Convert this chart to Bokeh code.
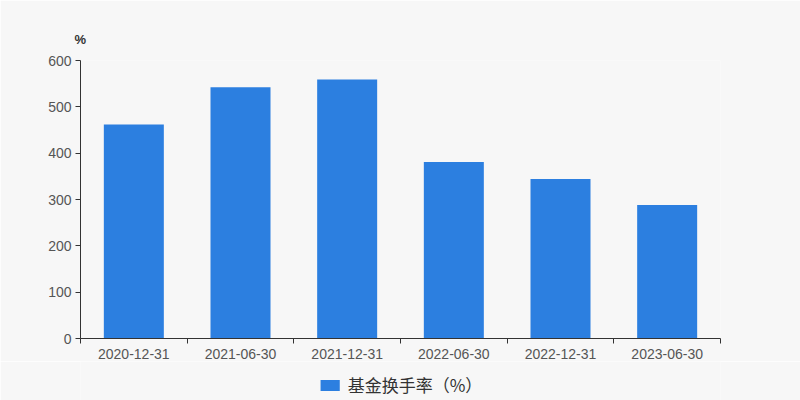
from bokeh.plotting import figure
from bokeh.layouts import column
from bokeh.models import ColumnDataSource, FixedTicker, Legend, LegendItem, Range1d
from bokeh.embed import file_html
from bokeh.resources import INLINE

dates = ["2020-12-31", "2021-06-30", "2021-12-31", "2022-06-30", "2022-12-31", "2023-06-30"]
turnover = [462, 542, 559, 381, 344, 288]
y_ticks = [0, 100, 200, 300, 400, 500, 600]
series_name = "基金换手率（%）"
unit_label = "%"

BG = "#f7f7f7"
BAR = "#2c7fe0"
AX = "#333333"
LBL = "#555555"

xs = [i + 0.5 for i in range(len(dates))]
src = ColumnDataSource(dict(x=xs, top=turnover, label=dates))

p = figure(width=800, height=361, output_backend="svg", toolbar_location=None,
           x_range=Range1d(0, len(dates)), y_range=Range1d(0, 600),
           min_border_left=80, min_border_right=80, min_border_top=60, min_border_bottom=0,
           title=unit_label)
p.background_fill_color = BG
p.border_fill_color = BG
p.outline_line_color = None
p.xgrid.visible = False
p.ygrid.visible = False

p.title.align = "left"
p.title.offset = -6
p.title.text_font = "Liberation Sans"
p.title.text_font_size = "13px"
p.title.text_font_style = "bold"
p.title.text_color = AX
p.title.standoff = 27

r = p.vbar(x="x", top="top", width=0.5625, bottom=0, source=src, fill_color=BAR, line_color=None)

# x axis: labels at centres, ticks at boundaries
p.xaxis.ticker = FixedTicker(ticks=xs, minor_ticks=list(range(len(dates) + 1)))
p.xaxis.major_label_overrides = {x: d for x, d in zip(xs, dates)}
p.xaxis.major_tick_out = 0
p.xaxis.major_tick_in = 0
p.xaxis.minor_tick_out = 5
p.xaxis.minor_tick_in = 0
p.xaxis.minor_tick_line_color = AX
p.xaxis.axis_line_color = AX
p.xaxis.major_label_text_font = "Liberation Sans"
p.xaxis.major_label_text_font_size = "14px"
p.xaxis.major_label_text_color = LBL
p.xaxis.major_label_standoff = 5

p.yaxis.ticker = FixedTicker(ticks=y_ticks)
p.yaxis.minor_tick_line_color = None
p.yaxis.major_tick_out = 5
p.yaxis.major_tick_in = 0
p.yaxis.major_tick_line_color = AX
p.yaxis.axis_line_color = AX
p.yaxis.major_label_text_font = "Liberation Sans"
p.yaxis.major_label_text_font_size = "14px"
p.yaxis.major_label_text_color = LBL
p.yaxis.major_label_standoff = 4

# legend strip
lg = figure(width=800, height=39, output_backend="svg", toolbar_location=None,
            x_range=Range1d(0, len(dates)), y_range=Range1d(0, 600),
            min_border_left=0, min_border_right=0, min_border_top=0, min_border_bottom=0)
lg.axis.visible = False
lg.grid.visible = False
lg.background_fill_color = BG
lg.border_fill_color = BG
lg.outline_line_color = None
lr = lg.vbar(x="x", top="top", width=0.5625, bottom=0, source=src, fill_color=BAR, line_color=None)
lr.visible = False
legend = Legend(items=[LegendItem(label=series_name, renderers=[lr])],
                location="bottom_center", orientation="horizontal", click_policy="none",
                glyph_width=24, glyph_height=14, label_standoff=6, label_height=20,
                padding=0, margin=3, border_line_alpha=0, background_fill_alpha=0,
                label_text_font="Noto Sans CJK SC", label_text_font_size="17px",
                label_text_color=AX)
lg.add_layout(legend)

layout = column(p, lg, spacing=0)
open("out.html", "w").write(file_html(layout, INLINE))
